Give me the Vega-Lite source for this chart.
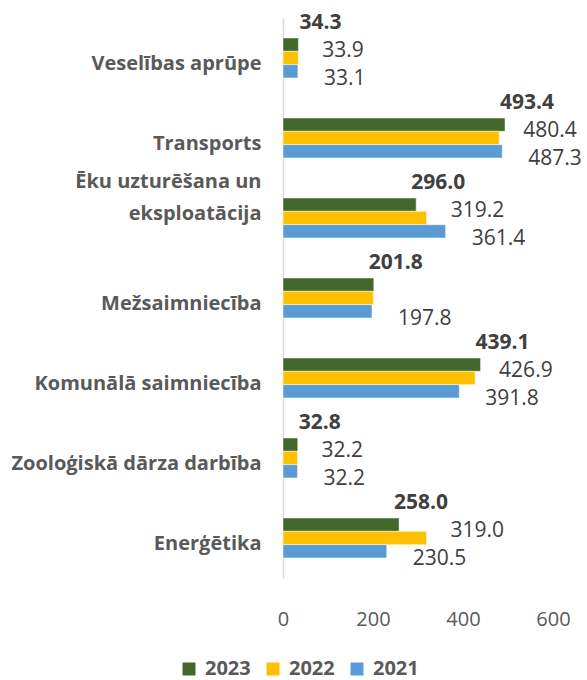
{
  "$schema": "https://vega.github.io/schema/vega-lite/v6.json",
  "width": 270,
  "height": 560,
  "autosize": {"type": "none"},
  "padding": {"left": 283, "top": 18, "right": 34, "bottom": 102},
  "background": "white",
  "config": {"font": "Open Sans", "view": {"stroke": null}},
  "data": {"values": [
    {"category": "Veselības aprūpe", "year": "2023", "value": 34.3},
    {"category": "Veselības aprūpe", "year": "2022", "value": 33.9},
    {"category": "Veselības aprūpe", "year": "2021", "value": 33.1},
    {"category": "Transports", "year": "2023", "value": 493.4},
    {"category": "Transports", "year": "2022", "value": 480.4},
    {"category": "Transports", "year": "2021", "value": 487.3},
    {"category": "Ēku uzturēšana un eksploatācija", "year": "2023", "value": 296.0},
    {"category": "Ēku uzturēšana un eksploatācija", "year": "2022", "value": 319.2},
    {"category": "Ēku uzturēšana un eksploatācija", "year": "2021", "value": 361.4},
    {"category": "Mežsaimniecība", "year": "2023", "value": 201.8},
    {"category": "Mežsaimniecība", "year": "2022", "value": 200.8},
    {"category": "Mežsaimniecība", "year": "2021", "value": 197.8},
    {"category": "Komunālā saimniecība", "year": "2023", "value": 439.1},
    {"category": "Komunālā saimniecība", "year": "2022", "value": 426.9},
    {"category": "Komunālā saimniecība", "year": "2021", "value": 391.8},
    {"category": "Zooloģiskā dārza darbība", "year": "2023", "value": 32.8},
    {"category": "Zooloģiskā dārza darbība", "year": "2022", "value": 32.2},
    {"category": "Zooloģiskā dārza darbība", "year": "2021", "value": 32.2},
    {"category": "Enerģētika", "year": "2023", "value": 258.0},
    {"category": "Enerģētika", "year": "2022", "value": 319.0},
    {"category": "Enerģētika", "year": "2021", "value": 230.5}
  ]},
  "encoding": {
    "y": {
      "field": "category", "type": "nominal", "sort": null,
      "scale": {"paddingInner": 0.5, "paddingOuter": 0.25},
      "axis": {
        "title": null, "ticks": false, "domainColor": "#D9D9D9", "domainWidth": 1.5,
        "labelFont": "Open Sans", "labelFontWeight": "bold", "labelFontSize": 20,
        "labelColor": "#595959", "labelPadding": 22, "labelLimit": 300,
        "labelLineHeight": 32,
        "labelOffset": {"condition": {"test": "datum.value == 'Ēku uzturēšana un eksploatācija'", "value": -36}, "value": 6},
        "labelExpr": "datum.value == 'Ēku uzturēšana un eksploatācija' ? ['Ēku uzturēšana un', 'eksploatācija'] : datum.value"
      }
    },
    "yOffset": {"field": "year", "type": "nominal", "scale": {"domain": ["2023", "2022", "2021"], "paddingInner": 0}},
    "x": {
      "field": "value", "type": "quantitative",
      "scale": {"domain": [0, 600], "nice": false},
      "axis": {
        "title": null, "values": [0, 200, 400, 600], "grid": false, "domain": false, "ticks": false,
        "labelFontSize": 20, "labelColor": "#595959", "labelPadding": 31, "labelFlush": false
      }
    }
  },
  "layer": [
    {
      "mark": {"type": "bar", "stroke": "white", "strokeWidth": 0.5},
      "encoding": {
        "color": {
          "field": "year", "type": "nominal",
          "scale": {"domain": ["2023", "2022", "2021"], "range": ["#43682B", "#FFC000", "#5B9BD5"]},
          "legend": {
            "title": null, "orient": "none", "direction": "horizontal",
            "legendX": -104, "legendY": 641,
            "symbolType": "square", "symbolSize": 169, "symbolStrokeWidth": 0,
            "labelFontSize": 20, "labelFontWeight": "bold", "labelColor": "#595959",
            "labelOffset": 6, "columnPadding": 12
          }
        }
      }
    },
    {
      "transform": [{"filter": "datum.year == '2023'"}],
      "mark": {"type": "text", "align": "center", "baseline": "middle", "dx": 22, "dy": -22, "fontSize": 21, "fontWeight": "bold", "color": "#404040"},
      "encoding": {"text": {"field": "value", "type": "quantitative", "format": ".1f"}}
    },
    {
      "transform": [{"filter": "datum.year == '2022' && datum.category != 'Mežsaimniecība'"}],
      "mark": {"type": "text", "align": "left", "baseline": "middle", "dx": 24, "dy": -7, "fontSize": 21, "color": "#404040"},
      "encoding": {"text": {"field": "value", "type": "quantitative", "format": ".1f"}}
    },
    {
      "transform": [{"filter": "datum.year == '2021'"}],
      "mark": {"type": "text", "align": "left", "baseline": "middle", "dx": 26, "dy": 8, "fontSize": 21, "color": "#404040"},
      "encoding": {"text": {"field": "value", "type": "quantitative", "format": ".1f"}}
    }
  ]
}
